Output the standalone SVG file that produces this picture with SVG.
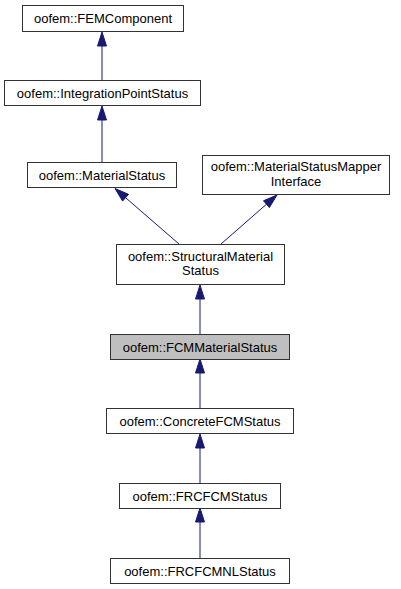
<svg xmlns="http://www.w3.org/2000/svg" width="401" height="589" viewBox="0 0 401 589">
<style>
.n rect{fill:#ffffff;stroke:#333333;stroke-width:1}
.n.cur rect{fill:#bfbfbf}
.n text{font-family:"Liberation Sans",Arial,Helvetica,sans-serif;font-size:13px;text-anchor:middle;fill:#000000}
.e line{stroke:#191970;stroke-width:1}
.e polygon{fill:#191970;stroke:#191970;stroke-width:1}
</style>
<rect x="0" y="0" width="401" height="589" fill="#ffffff"/>
<g id="connectors" class="e">
<line x1="102" y1="46" x2="102" y2="80"/>
<polygon points="102,32 97.5,46 106.5,46"/>
<line x1="102" y1="120" x2="102" y2="162"/>
<polygon points="102,106 97.5,120 106.5,120"/>
<line x1="179" y1="244" x2="125.6" y2="197.7"/>
<polygon points="115,188.5 128.5,194.3 122.6,201.1"/>
<line x1="221" y1="244" x2="266.5" y2="204.2"/>
<polygon points="277,195 269.4,207.6 263.5,200.8"/>
<line x1="200" y1="299" x2="200" y2="334"/>
<polygon points="200,285 195.5,299 204.5,299"/>
<line x1="200" y1="373" x2="200" y2="408"/>
<polygon points="200,359 195.5,373 204.5,373"/>
<line x1="200" y1="448" x2="200" y2="483"/>
<polygon points="200,434 195.5,448 204.5,448"/>
<line x1="200" y1="522" x2="200" y2="558"/>
<polygon points="200,508 195.5,522 204.5,522"/>
</g>
<g id="FEMComponent" class="n">
<rect x="22.5" y="5.5" width="161" height="26"/>
<text x="103" y="23">oofem::FEMComponent</text>
</g>
<g id="IntegrationPointStatus" class="n">
<rect x="4.5" y="80.5" width="196" height="25"/>
<text x="102.5" y="97.5">oofem::IntegrationPointStatus</text>
</g>
<g id="MaterialStatus" class="n">
<rect x="27.5" y="162.5" width="149" height="25"/>
<text x="102" y="179.5">oofem::MaterialStatus</text>
</g>
<g id="MaterialStatusMapperInterface" class="n">
<rect x="202.5" y="155.5" width="187" height="39"/>
<text x="296" y="171">oofem::MaterialStatusMapper</text>
<text x="296" y="185.5">Interface</text>
</g>
<g id="StructuralMaterialStatus" class="n">
<rect x="116.5" y="244.5" width="168" height="40"/>
<text x="200.5" y="261">oofem::StructuralMaterial</text>
<text x="200.5" y="275">Status</text>
</g>
<g id="FCMMaterialStatus" class="n cur">
<rect x="110.5" y="334.5" width="179" height="25"/>
<text x="200" y="351.5">oofem::FCMMaterialStatus</text>
</g>
<g id="ConcreteFCMStatus" class="n">
<rect x="106.5" y="408.5" width="187" height="25"/>
<text x="200" y="425.5">oofem::ConcreteFCMStatus</text>
</g>
<g id="FRCFCMStatus" class="n">
<rect x="119.5" y="483.5" width="161" height="25"/>
<text x="200" y="500.5">oofem::FRCFCMStatus</text>
</g>
<g id="FRCFCMNLStatus" class="n">
<rect x="110.5" y="558.5" width="179" height="25"/>
<text x="200" y="575.5">oofem::FRCFCMNLStatus</text>
</g>
</svg>
